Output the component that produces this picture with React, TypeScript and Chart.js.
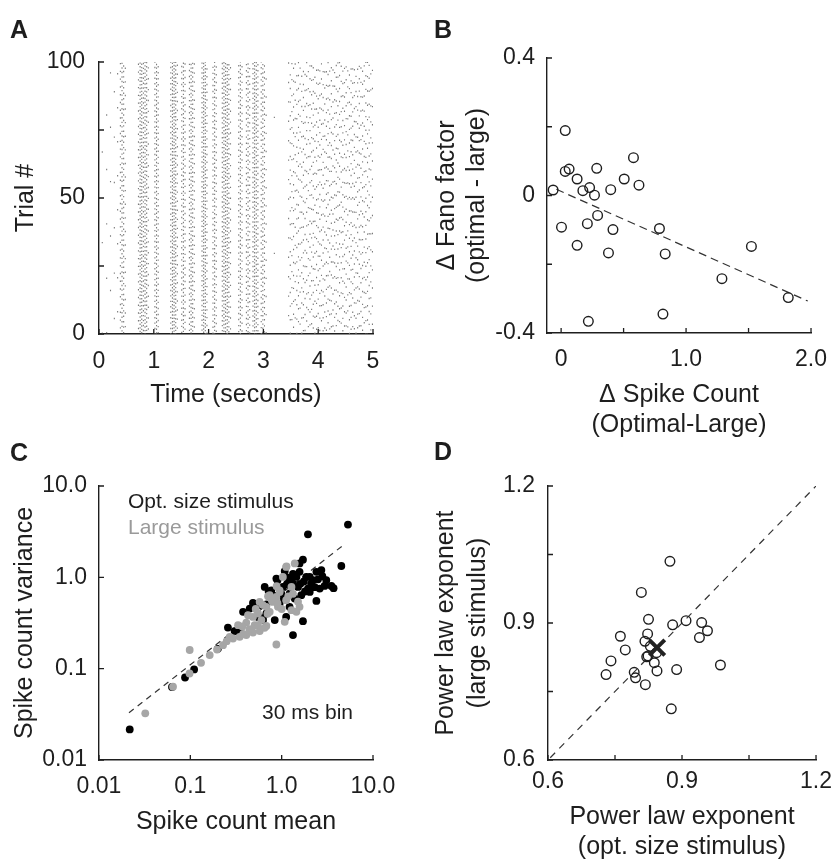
import React, { useEffect, useRef } from "react";
import { Chart, registerables } from "chart.js";
Chart.register(...registerables);

const FONT = '"Liberation Sans", Arial, Helvetica, sans-serif';
const INK = "#1e1e1e";
const GRAY = "#a6a6a6";
Chart.defaults.font.family = FONT;
Chart.defaults.color = INK;

// ---------- Panel A: raster (spike columns and fraction of trials firing) ----------
const trialCount = 100;
const rasterTimes = [
  0.06, 0.14, 0.21, 0.28, 0.34,
  0.39, 0.42, 0.45, 0.48,
  0.72, 0.75, 0.78, 0.81, 0.84, 0.87, 0.9,
  1.02, 1.05, 1.08,
  1.31, 1.34, 1.37, 1.4, 1.43,
  1.51, 1.54, 1.57,
  1.65, 1.68, 1.71, 1.74,
  1.88, 1.91, 1.94, 1.97,
  2.08, 2.11, 2.14,
  2.25, 2.28, 2.31, 2.34, 2.37, 2.4,
  2.55, 2.58, 2.61,
  2.69, 2.72, 2.75,
  2.81, 2.84, 2.87, 2.9,
  2.96, 2.99, 3.02, 3.05,
  3.2,
  3.46, 3.49, 3.52, 3.55, 3.58, 3.61, 3.64, 3.67, 3.7, 3.73, 3.76, 3.79, 3.82, 3.85,
  3.88, 3.91, 3.94, 3.97, 4.0, 4.03, 4.06, 4.09, 4.12, 4.15, 4.18, 4.21, 4.24, 4.27,
  4.3, 4.33, 4.36, 4.39, 4.42, 4.45, 4.48, 4.51, 4.54, 4.57, 4.6, 4.63, 4.66, 4.69,
  4.72, 4.75, 4.78, 4.81, 4.84, 4.87, 4.9, 4.93, 4.96, 4.99,
];
const rasterDensity = [
  0.03, 0.05, 0.05, 0.06, 0.08,
  0.35, 0.6, 0.5, 0.2,
  0.35, 0.75, 0.8, 0.55, 0.75, 0.65, 0.25,
  0.5, 0.75, 0.45,
  0.5, 0.8, 0.85, 0.7, 0.3,
  0.45, 0.7, 0.4,
  0.45, 0.75, 0.6, 0.3,
  0.55, 0.85, 0.8, 0.35,
  0.45, 0.7, 0.35,
  0.55, 0.8, 0.7, 0.8, 0.55, 0.25,
  0.45, 0.7, 0.35,
  0.45, 0.65, 0.35,
  0.55, 0.8, 0.7, 0.45,
  0.45, 0.65, 0.45, 0.15,
  0.02,
  0.14, 0.2, 0.17, 0.21, 0.15, 0.19, 0.21, 0.17, 0.18, 0.21, 0.17, 0.2, 0.16, 0.21,
  0.19, 0.23, 0.17, 0.21, 0.19, 0.22, 0.18, 0.21, 0.17, 0.2, 0.23, 0.19, 0.21, 0.17,
  0.2, 0.23, 0.19, 0.21, 0.18, 0.22, 0.19, 0.21, 0.17, 0.2, 0.23, 0.19, 0.21, 0.18,
  0.2, 0.22, 0.19, 0.21, 0.18, 0.2, 0.19, 0.21, 0.17, 0.15,
];
const aXTicks = [0, 1, 2, 3, 4, 5];
const aXLabels = ["0", "1", "2", "3", "4", "5"];
const aYTicks = [0, 25, 50, 75, 100];
const aYLabels = ["0", "", "50", "", "100"];

// ---------- Panel B ----------
const bSpikeDelta = [-0.064, 0.033, 0.033, 0.064, 0.128, 0.285, 0.228, 0.174, 0.267, 0.397, 0.505, 0.579, 0.623, 0.292, 0.003, 0.21, 0.415, 0.128, 0.379, 0.787, 0.833, 0.218, 0.815, 1.287, 1.523, 1.818];
const bFanoDelta = [0.016, 0.189, 0.07, 0.077, 0.048, 0.079, 0.023, 0.014, 0.001, 0.017, 0.048, 0.11, 0.03, -0.058, -0.092, -0.082, -0.099, -0.145, -0.167, -0.096, -0.17, -0.366, -0.345, -0.242, -0.148, -0.297];
const bFitX = [-0.038, 1.974];
const bFitY = [0.018, -0.307];
const bXTicks = [0, 0.5, 1, 1.5, 2];
const bXLabels = ["0", "", "1.0", "", "2.0"];
const bYTicks = [-0.4, -0.2, 0, 0.2, 0.4];
const bYLabels = ["-0.4", "", "0", "", "0.4"];

// ---------- Panel C ----------
const cOptMean = [0.0217, 0.063, 0.0875, 0.11, 0.258, 0.305, 0.347, 0.2, 0.485, 0.625, 0.68, 0.8, 0.77, 0.9, 1.08, 1.14, 1.33, 1.71, 1.94, 5.32, 4.5, 1.71, 2.4, 3.5, 2.95, 2.79, 2.72, 2.2, 1.86, 1.57, 1.45, 1.33, 1.51, 1.94, 2.03, 1.64, 1.39, 1.22, 1.12, 0.99, 1.03, 1.22, 2.4, 3.08, 2.61, 0.652, 0.68, 0.55, 0.574, 0.378, 0.447, 1.57, 0.875, 1.33, 0.95, 0.84, 2.03, 2.3, 1.15, 1.75, 0.617, 3.7, 0.72, 1.25, 1.6, 1.8, 2.1, 2.5, 1.05, 0.32];
const cOptVar = [0.0216, 0.063, 0.08, 0.098, 0.282, 0.258, 0.258, 0.165, 0.525, 0.34, 0.504, 0.637, 0.72, 0.93, 1.17, 0.84, 0.233, 0.331, 2.96, 3.78, 1.33, 1.56, 0.552, 0.805, 0.805, 1.03, 1.2, 0.93, 1.01, 1.15, 1.01, 0.855, 0.785, 0.753, 0.693, 0.637, 0.586, 0.475, 0.369, 0.664, 0.785, 0.664, 1.15, 0.93, 0.753, 0.785, 0.402, 0.369, 0.496, 0.419, 0.455, 1.42, 0.97, 1.09, 0.516, 0.34, 1.01, 0.78, 1.0, 0.9, 0.357, 0.76, 0.7, 0.95, 0.85, 0.7, 0.85, 0.95, 0.6, 0.26];
const cLargeMean = [0.0321, 0.0646, 0.0984, 0.098, 0.131, 0.163, 0.196, 0.228, 0.293, 0.347, 0.41, 0.485, 0.575, 0.27, 0.333, 0.41, 0.428, 0.55, 0.68, 0.875, 0.574, 0.68, 0.74, 0.95, 1.12, 1.39, 1.28, 1.57, 1.08, 1.28, 0.91, 0.875, 0.74, 0.485, 0.6, 0.506, 1.12, 1.03, 1.51, 1.33, 0.8, 0.372, 0.445, 0.709, 0.95, 1.13, 0.52, 0.62, 0.78, 0.9, 1.0, 0.88, 0.65, 0.55, 1.18, 1.45, 0.7, 0.38, 0.25];
const cLargeVar = [0.0324, 0.0634, 0.16, 0.0885, 0.116, 0.141, 0.162, 0.181, 0.214, 0.223, 0.233, 0.249, 0.258, 0.223, 0.299, 0.32, 0.385, 0.402, 0.294, 0.184, 0.538, 0.475, 0.637, 0.72, 1.3, 1.42, 0.785, 0.475, 0.326, 0.437, 0.475, 0.61, 0.419, 0.369, 0.34, 0.299, 0.562, 1.01, 0.54, 0.66, 0.538, 0.29, 0.27, 0.622, 0.69, 1.32, 0.45, 0.5, 0.56, 0.52, 0.45, 0.8, 0.28, 0.3, 0.62, 0.42, 0.4, 0.24, 0.2];
const cFitMean = [0.0213, 4.7];
const cFitVar = [0.0329, 2.24];
const cXTicks = [0.01, 0.1, 1, 10];
const cXLabels = ["0.01", "0.1", "1.0", "10.0"];
const cYTicks = [0.01, 0.1, 1, 10];
const cYLabels = ["0.01", "0.1", "1.0", "10.0"];

// ---------- Panel D ----------
const dOptExp = [0.873, 0.809, 0.825, 0.879, 0.909, 0.944, 0.957, 0.939, 0.986, 0.762, 0.773, 0.741, 0.73, 0.793, 0.796, 0.818, 0.823, 0.817, 0.829, 0.821, 0.824, 0.838, 0.844, 0.843, 0.888, 0.876];
const dLargeExp = [1.035, 0.967, 0.908, 0.896, 0.905, 0.901, 0.883, 0.868, 0.808, 0.871, 0.841, 0.817, 0.787, 0.792, 0.78, 0.765, 0.876, 0.86, 0.849, 0.826, 0.828, 0.813, 0.795, 0.835, 0.798, 0.712];
const dMeanOpt = [0.844];
const dMeanLarge = [0.846];
const dUnityX = [0.605, 1.2];
const dUnityY = [0.605, 1.2];
const dTicks = [0.6, 0.75, 0.9, 1.05, 1.2];
const dLabels = ["0.6", "", "0.9", "", "1.2"];

// ---------- helpers ----------
type AxisCfg = {
  type?: string;
  position: "bottom" | "left";
  min: number;
  max: number;
  ticks: number[];
  labels: string[];
  size: number;
  pad: number;
  title: string | string[];
  titleTop?: number;
  titleBottom?: number;
  lineHeight?: number;
};

function axis(o: AxisCfg): any {
  return {
    type: o.type ?? "linear",
    position: o.position,
    min: o.min,
    max: o.max,
    afterFit: (s: any) => {
      if (o.position === "bottom") s.height = o.size;
      else s.width = o.size;
    },
    afterBuildTicks: (s: any) => {
      s.ticks = o.ticks.map((v) => ({ value: v }));
    },
    grid: { display: false, drawTicks: false },
    border: { display: true, color: INK, width: 1.4 },
    ticks: {
      autoSkip: false,
      maxRotation: 0,
      minRotation: 0,
      padding: o.pad,
      color: INK,
      font: { family: FONT, size: 23 },
      callback: (_v: any, i: number) => o.labels[i] ?? "",
    },
    title: {
      display: true,
      text: o.title,
      color: INK,
      font: { family: FONT, size: 25, lineHeight: o.lineHeight ?? 1.2 },
      padding: { top: o.titleTop ?? 0, bottom: o.titleBottom ?? 0 },
    },
  };
}

const innerTicks = {
  id: "innerTicks",
  afterDraw(chart: any) {
    const { ctx } = chart;
    const xs = chart.scales.x;
    const ys = chart.scales.y;
    ctx.save();
    ctx.strokeStyle = INK;
    ctx.lineWidth = 1.3;
    ctx.beginPath();
    for (const t of xs.ticks) {
      const px = xs.getPixelForValue(t.value);
      ctx.moveTo(px, xs.top);
      ctx.lineTo(px, xs.top - 5);
    }
    for (const t of ys.ticks) {
      const py = ys.getPixelForValue(t.value);
      ctx.moveTo(ys.right, py);
      ctx.lineTo(ys.right + 5, py);
    }
    ctx.stroke();
    ctx.restore();
  },
};

const zip = (xs: number[], ys: number[]) => xs.map((x, i) => ({ x, y: ys[i] }));

function baseOptions(padding: any, scales: any): any {
  return {
    responsive: false,
    animation: false,
    devicePixelRatio: 1,
    events: [],
    layout: { padding },
    plugins: { legend: { display: false }, tooltip: { enabled: false } },
    scales,
  };
}

// ---------- chart configs ----------
function configA(): any {
  const rowPx = 2.72;
  const datasets = rasterTimes.map((t, i) => {
    const d = rasterDensity[i];
    const period = rowPx / d;
    const phase = ((i * i * 0.618 + i * 0.37) % 1) * period;
    return {
      type: "line",
      data: [
        { x: t, y: 0 },
        { x: t, y: trialCount },
      ],
      borderColor: "#7a7a7a",
      borderWidth: 1.1,
      borderDash: [1.4, Math.max(period - 1.4, 0.6)],
      borderDashOffset: phase,
      pointRadius: 0,
      fill: false,
    };
  });
  return {
    type: "line",
    data: { datasets },
    options: baseOptions(
      { top: 62, right: 47, left: 0, bottom: 0 },
      {
        x: axis({ position: "bottom", min: 0, max: 5, ticks: aXTicks, labels: aXLabels, size: 86, pad: 14, title: "Time (seconds)", titleBottom: 10 }),
        y: axis({ position: "left", min: 0, max: trialCount, ticks: aYTicks, labels: aYLabels, size: 99, pad: 14, title: "Trial #", titleTop: 11 }),
      }
    ),
    plugins: [innerTicks],
  };
}

function configB(): any {
  return {
    type: "scatter",
    data: {
      datasets: [
        {
          data: zip(bSpikeDelta, bFanoDelta),
          pointStyle: "circle",
          pointRadius: 4.8,
          borderWidth: 1.4,
          borderColor: INK,
          backgroundColor: "rgba(0,0,0,0)",
        },
        {
          type: "line",
          data: zip(bFitX, bFitY),
          borderColor: "#333",
          borderWidth: 1.2,
          borderDash: [8, 5],
          pointRadius: 0,
          showLine: true,
        },
      ],
    },
    options: baseOptions(
      { top: 58, right: 18, left: 0, bottom: 0 },
      {
        x: axis({ position: "bottom", min: -0.113, max: 2.0, ticks: bXTicks, labels: bXLabels, size: 117, pad: 13, title: ["Δ Spike Count", "(Optimal-Large)"], titleBottom: 10 }),
        y: axis({ position: "left", min: -0.4, max: 0.4, ticks: bYTicks, labels: bYLabels, size: 127, pad: 12, title: ["Δ Fano factor", "(optimal - large)"], titleTop: 12 }),
      }
    ),
    plugins: [innerTicks],
  };
}

function configC(): any {
  return {
    type: "scatter",
    data: {
      datasets: [
        {
          data: zip(cLargeMean, cLargeVar),
          pointRadius: 3.9,
          borderWidth: 0,
          backgroundColor: GRAY,
          borderColor: GRAY,
        },
        {
          data: zip(cOptMean, cOptVar),
          pointRadius: 3.9,
          borderWidth: 0,
          backgroundColor: "#000",
          borderColor: "#000",
        },
        {
          type: "line",
          data: zip(cFitMean, cFitVar),
          borderColor: "#333",
          borderWidth: 1.2,
          borderDash: [6, 5],
          pointRadius: 0,
          showLine: true,
        },
      ],
    },
    options: baseOptions(
      { top: 66, right: 47, left: 0, bottom: 0 },
      {
        x: axis({ type: "logarithmic", position: "bottom", min: 0.01, max: 10, ticks: cXTicks, labels: cXLabels, size: 104, pad: 13, title: "Spike count mean", titleBottom: 27 }),
        y: axis({ type: "logarithmic", position: "left", min: 0.01, max: 10, ticks: cYTicks, labels: cYLabels, size: 99, pad: 12, title: "Spike count variance", titleTop: 10 }),
      }
    ),
    plugins: [innerTicks],
  };
}

function configD(): any {
  return {
    type: "scatter",
    data: {
      datasets: [
        {
          data: zip(dMeanOpt, dMeanLarge),
          pointStyle: "crossRot",
          pointRadius: 11,
          borderWidth: 4,
          borderColor: "#222",
          backgroundColor: "#222",
        },
        {
          data: zip(dOptExp, dLargeExp),
          pointStyle: "circle",
          pointRadius: 4.8,
          borderWidth: 1.4,
          borderColor: INK,
          backgroundColor: "rgba(0,0,0,0)",
        },
        {
          type: "line",
          data: zip(dUnityX, dUnityY),
          borderColor: "#333",
          borderWidth: 1.2,
          borderDash: [7, 6],
          pointRadius: 0,
          showLine: true,
        },
      ],
    },
    options: baseOptions(
      { top: 66, right: 18, left: 0, bottom: 0 },
      {
        x: axis({ position: "bottom", min: 0.6, max: 1.2, ticks: dTicks, labels: dLabels, size: 104, pad: 8, title: ["Power law exponent", "(opt. size stimulus)"], titleBottom: 2 }),
        y: axis({ position: "left", min: 0.6, max: 1.2, ticks: dTicks, labels: dLabels, size: 128, pad: 13, title: ["Power law exponent", "(large stimulus)"], titleTop: 10, lineHeight: 1.28 }),
      }
    ),
    plugins: [innerTicks],
  };
}

function ChartCanvas({ x, y, w, h, build }: { x: number; y: number; w: number; h: number; build: () => any }) {
  const ref = useRef<HTMLCanvasElement>(null);
  useEffect(() => {
    const chart = new Chart(ref.current as HTMLCanvasElement, build());
    return () => chart.destroy();
  }, []);
  return <canvas ref={ref} width={w} height={h} style={{ position: "absolute", left: x, top: y, width: w, height: h }} />;
}

function Label({ x, y, text, size, bold, color }: { x: number; y: number; text: string; size: number; bold?: boolean; color?: string }) {
  return (
    <div
      style={{
        position: "absolute",
        left: x,
        top: y,
        fontFamily: FONT,
        fontSize: size,
        fontWeight: bold ? 700 : 400,
        lineHeight: 1,
        color: color ?? INK,
        whiteSpace: "nowrap",
      }}
    >
      {text}
    </div>
  );
}

export default function App() {
  return (
    <div style={{ position: "absolute", left: 0, top: 0, width: 840, height: 864, background: "#fff", overflow: "hidden" }}>
      <ChartCanvas x={0} y={0} w={420} h={420} build={configA} />
      <ChartCanvas x={420} y={420} w={420} h={444} build={configD} />
      <ChartCanvas x={0} y={420} w={420} h={444} build={configC} />
      <ChartCanvas x={420} y={0} w={420} h={450} build={configB} />
      <Label x={10} y={17} text="A" size={25} bold />
      <Label x={434} y={17} text="B" size={25} bold />
      <Label x={10} y={440} text="C" size={25} bold />
      <Label x={434} y={439} text="D" size={25} bold />
      <Label x={128} y={490} text="Opt. size stimulus" size={21} />
      <Label x={128} y={516} text="Large stimulus" size={21} color="#9a9a9a" />
      <Label x={262} y={701} text="30 ms bin" size={21} />
    </div>
  );
}
